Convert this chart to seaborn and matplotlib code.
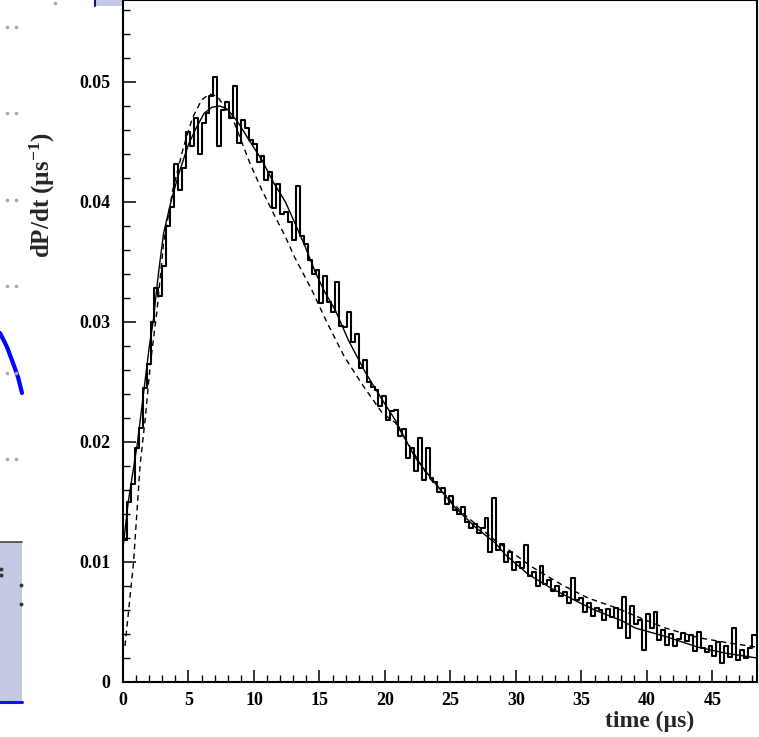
import numpy as np
import pandas as pd
import matplotlib
matplotlib.use("Agg")
import matplotlib.pyplot as plt
from matplotlib.patches import Rectangle
from matplotlib.lines import Line2D
from matplotlib.ticker import MultipleLocator
import seaborn as sns

# ---------------- data ----------------
bin_width = 0.3
hist_values = [
    0.0118, 0.0150, 0.0165, 0.0195, 0.0212, 0.0245, 0.0265, 0.0300, 0.0328, 0.0322,
    0.0347, 0.0380, 0.0396, 0.0432, 0.0410, 0.0428, 0.0458, 0.0447, 0.0470, 0.0440,
    0.0466, 0.0474, 0.0488, 0.0504, 0.0447, 0.0477, 0.0483, 0.0470, 0.0497, 0.0449,
    0.0468, 0.0462, 0.0452, 0.0448, 0.0433, 0.0438, 0.0418, 0.0425, 0.0395, 0.0415,
    0.0390, 0.0392, 0.0383, 0.0368, 0.0413, 0.0372, 0.0365, 0.0352, 0.0340, 0.0343,
    0.0316, 0.0338, 0.0317, 0.0308, 0.0333, 0.0297, 0.0296, 0.0308, 0.0283, 0.0290,
    0.0262, 0.0268, 0.0250, 0.0246, 0.0243, 0.0230, 0.0238, 0.0218, 0.0226, 0.0227,
    0.0205, 0.0211, 0.0187, 0.0195, 0.0176, 0.0203, 0.0168, 0.0195, 0.0170, 0.0167,
    0.0158, 0.0162, 0.0148, 0.0155, 0.0143, 0.0140, 0.0146, 0.0133, 0.0128, 0.0132,
    0.0124, 0.0128, 0.0137, 0.0108, 0.0153, 0.0110, 0.0115, 0.0100, 0.0108, 0.0093,
    0.0100, 0.0095, 0.0114, 0.0088, 0.0092, 0.0080, 0.0097, 0.0082, 0.0085, 0.0076,
    0.0080, 0.0072, 0.0075, 0.0066, 0.0087, 0.0068, 0.0070, 0.0058, 0.0066, 0.0055,
    0.0062, 0.0060, 0.0052, 0.0061, 0.0054, 0.0062, 0.0045, 0.0071, 0.0037, 0.0063,
    0.0048, 0.0052, 0.0027, 0.0057, 0.0045, 0.0058, 0.0035, 0.0043, 0.0031, 0.0040,
    0.0030, 0.0036, 0.0041, 0.0034, 0.0039, 0.0026, 0.0042, 0.0028, 0.0025, 0.0030,
    0.0022, 0.0033, 0.0016, 0.0030, 0.0021, 0.0045, 0.0018, 0.0027, 0.0020, 0.0028,
    0.0039,
]

fit_t = [0.0, 0.4, 1.1, 1.55, 2.0, 2.3, 2.7, 3.1, 3.7, 4.3, 5.0, 5.6, 6.2, 6.8, 7.4,
         8.0, 8.8, 9.6, 10.6, 11.5, 12.4, 13.1, 13.9, 14.7, 15.4, 16.2, 17.2, 18.5,
         19.8, 20.8, 22.3, 23.8, 25.3, 26.9, 28.4, 29.2, 30.9, 32.7, 34.5, 36.0,
         38.1, 39.1, 41.4, 43.9, 46.0, 48.4]
fit_y = [0.0112, 0.0150, 0.0199, 0.0239, 0.0279, 0.0300, 0.0340, 0.0374, 0.0402,
         0.0425, 0.0448, 0.0462, 0.0474, 0.0479, 0.0480, 0.0477, 0.0466, 0.0452,
         0.0435, 0.0416, 0.0400, 0.0383, 0.0363, 0.0341, 0.0325, 0.0310, 0.0285,
         0.0258, 0.0235, 0.0218, 0.0187, 0.0166, 0.0146, 0.0129, 0.0116, 0.0106,
         0.0090, 0.0078, 0.0068, 0.0060, 0.0051, 0.0045, 0.0038, 0.0029, 0.0024,
         0.0020]

alt_t = [0.15, 0.8, 1.3, 1.7, 2.1, 2.6, 3.1, 3.8, 4.6, 5.3, 6.0, 6.6, 7.2, 7.9, 8.5,
         9.7, 10.6, 11.6, 12.4, 13.1, 14.4, 15.6, 16.9, 18.2, 19.8, 20.8, 23.3,
         25.9, 28.4, 29.2, 31.2, 33.5, 35.5, 37.6, 39.8, 41.4, 43.9, 46.0, 48.4]
alt_y = [0.0030, 0.0099, 0.0180, 0.0220, 0.0266, 0.0310, 0.0366, 0.0410, 0.0445,
         0.0470, 0.0485, 0.0490, 0.0488, 0.0477, 0.0466, 0.0432, 0.0410, 0.0388,
         0.0371, 0.0354, 0.0327, 0.0299, 0.0271, 0.0249, 0.0224, 0.0216, 0.0171,
         0.0141, 0.0118, 0.0112, 0.0096, 0.0081, 0.0070, 0.0062, 0.0052, 0.0045,
         0.0037, 0.0033, 0.0029]

x_ticks = [0, 5, 10, 15, 20, 25, 30, 35, 40, 45]
y_ticks = [0, 0.01, 0.02, 0.03, 0.04, 0.05]
y_tick_labels = ["0", "0.01", "0.02", "0.03", "0.04", "0.05"]
x_label = "time (µs)"
y_label = "dP/dt (µs$^{\\mathbf{-1}}$)"

# ---------------- figure ----------------
sns.set_theme(style="ticks")
plt.rcParams["font.family"] = ["Liberation Serif", "DejaVu Serif"]
plt.rcParams["mathtext.fontset"] = "custom"
plt.rcParams["mathtext.rm"] = "Liberation Serif:bold"
plt.rcParams["mathtext.bf"] = "Liberation Serif:bold"
plt.rcParams["mathtext.default"] = "bf"

W, H = 759, 737
fig = plt.figure(figsize=(W / 100, H / 100), dpi=100)
fig.patch.set_facecolor("white")
ax = fig.add_axes([123 / W, 1 - 682 / H, (757 - 123) / W, 682 / H - 0.0005])
ax.set_facecolor("white")

n = len(hist_values)
centers = (np.arange(n) + 0.5) * bin_width
hist_df = pd.DataFrame({"t": centers, "w": np.asarray(hist_values, dtype=float)})

sns.histplot(data=hist_df, x="t", weights="w", bins=n, binrange=(0, n * bin_width),
             element="step", fill=False, color="black", linewidth=1.5, ax=ax)

sns.lineplot(x=fit_t, y=fit_y, color="black", linewidth=1.0, sort=False,
             estimator=None, ax=ax)
sns.lineplot(x=alt_t, y=alt_y, color="black", linewidth=1.0, sort=False,
             estimator=None, ax=ax)
ax.lines[-1].set_dashes([4, 3])

ax.set_xlim(0, 48.4)
ax.set_ylim(0, 0.0568)
ax.set_xlabel("")
ax.set_ylabel("")

ax.set_xticks(x_ticks)
ax.set_xticklabels([str(v) for v in x_ticks])
ax.set_yticks(y_ticks)
ax.set_yticklabels(y_tick_labels)
ax.xaxis.set_minor_locator(MultipleLocator(1))
ax.yaxis.set_minor_locator(MultipleLocator(0.002))
ax.tick_params(axis="both", which="major", direction="in", length=9, width=1.1,
               labelsize=13, colors="black")
ax.tick_params(axis="both", which="minor", direction="in", length=5, width=1.0,
               colors="black")
ax.tick_params(axis="x", which="major", pad=7)
ax.tick_params(axis="y", which="major", pad=9)
ax.tick_params(top=False, right=False, which="both")
for lab in ax.get_xticklabels() + ax.get_yticklabels():
    lab.set_fontweight("bold")
for side in ["left", "bottom", "right", "top"]:
    ax.spines[side].set_visible(True)
    ax.spines[side].set_color("black")
    ax.spines[side].set_linewidth(1.5)
ax.grid(False)

fig.text(694 / W, 1 - 721 / H, x_label, ha="right", va="center",
         fontsize=17, fontweight="bold")
fig.text(42 / W, 1 - 195 / H, y_label, ha="center", va="center",
         rotation=90, fontsize=18, fontweight="bold")

# ---------------- decorations cropped in from a neighbouring figure ----------------
def fx(x):
    return x / W

def fy(y):
    return 1 - y / H

fig.add_artist(Rectangle((fx(0), fy(702)), fx(22), (702 - 542) / H,
                         transform=fig.transFigure, facecolor="#c3c9e3",
                         edgecolor="none", zorder=0))
fig.add_artist(Line2D([fx(0), fx(22)], [fy(542), fy(542)], transform=fig.transFigure,
                      color="#444444", linewidth=1.2))
fig.add_artist(Line2D([fx(0), fx(22)], [fy(702), fy(702)], transform=fig.transFigure,
                      color="#1010ff", linewidth=2.2))
for (dx, dy) in [(1, 569), (1, 575), (21, 585), (21, 604)]:
    fig.add_artist(Line2D([fx(dx)], [fy(dy)], transform=fig.transFigure, marker="o",
                          markersize=1.8, color="#333333", linestyle="none"))
arc_x = [0, 7, 13, 18, 22]
arc_y = [333, 347, 363, 377, 393]
fig.add_artist(Line2D([fx(v) for v in arc_x], [fy(v) for v in arc_y],
                      transform=fig.transFigure, color="#0000ff", linewidth=3))
for gy in [27, 113, 200, 286, 373, 459]:
    for gx in [7, 16]:
        fig.add_artist(Line2D([fx(gx)], [fy(gy)], transform=fig.transFigure, marker="o",
                              markersize=1.6, color="#aaaaaa", linestyle="none"))
fig.add_artist(Line2D([fx(55)], [fy(3)], transform=fig.transFigure, marker="o",
                      markersize=1.6, color="#aaaaaa", linestyle="none"))
fig.add_artist(Rectangle((fx(95), fy(6)), (122 - 95) / W, 6 / H,
                         transform=fig.transFigure, facecolor="#c3c9e3",
                         edgecolor="none", zorder=0))
fig.add_artist(Line2D([fx(95), fx(95)], [fy(0), fy(6)], transform=fig.transFigure,
                      color="#101080", linewidth=1.5))

fig.savefig("out.png", dpi=100, facecolor="white")
